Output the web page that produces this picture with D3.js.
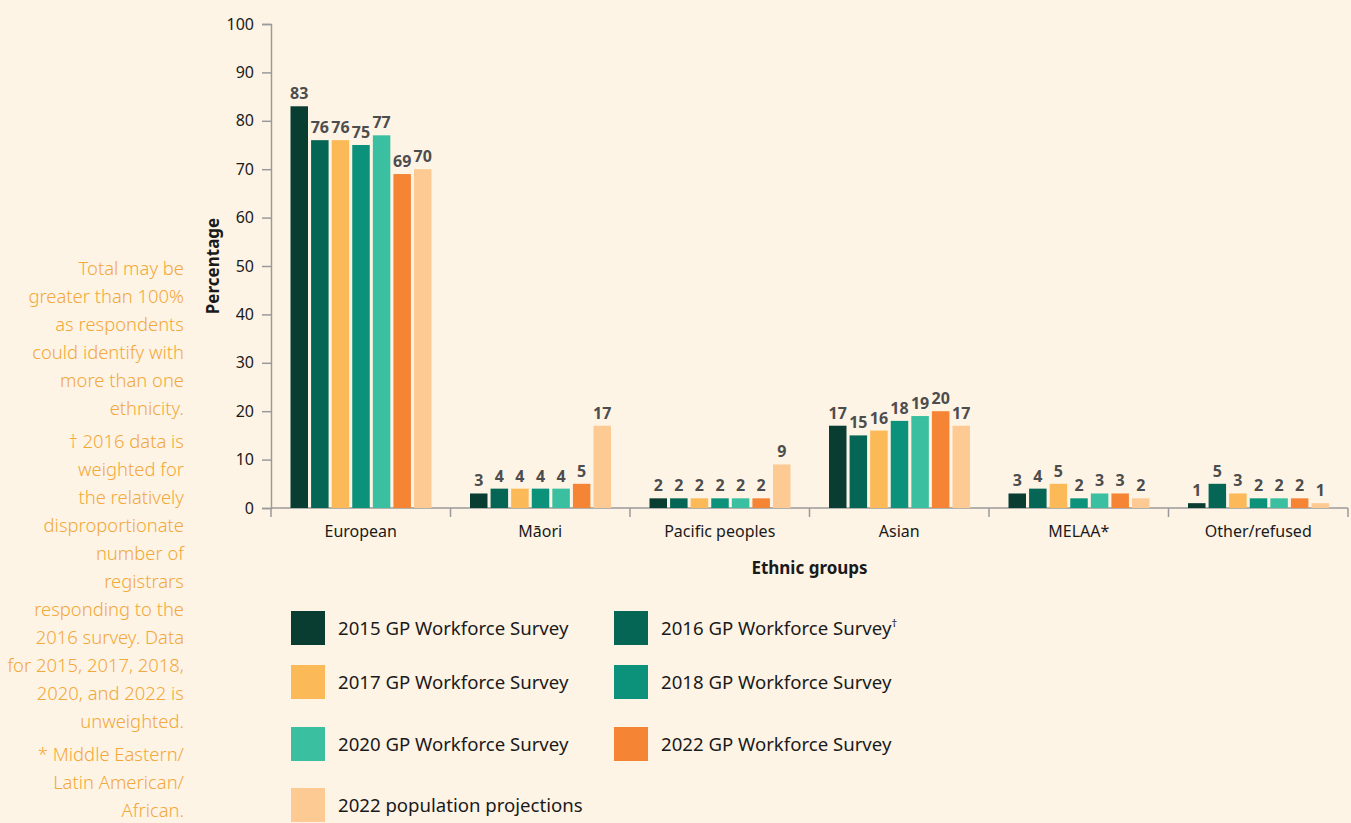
<!DOCTYPE html>
<html>
<head>
<meta charset="utf-8">
<script src="https://cdn.jsdelivr.net/npm/d3@7"></script>
<style>
  body { margin: 0; background: #fef4e6; }
  svg { display: block; font-family: "Noto Sans", sans-serif; }
</style>
</head>
<body>
<svg id="chart" width="1351" height="823"></svg>
<script>
// data
let categories = ['European', 'Māori', 'Pacific peoples', 'Asian', 'MELAA*', 'Other/refused']
let seriesNames = [
  '2015 GP Workforce Survey', '2016 GP Workforce Survey', '2017 GP Workforce Survey',
  '2018 GP Workforce Survey', '2020 GP Workforce Survey', '2022 GP Workforce Survey',
  '2022 population projections'
]
let s2015 = [83, 3, 2, 17, 3, 1]
let s2016 = [76, 4, 2, 15, 4, 5]
let s2017 = [76, 4, 2, 16, 5, 3]
let s2018 = [75, 4, 2, 18, 2, 2]
let s2020 = [77, 4, 2, 19, 3, 2]
let s2022 = [69, 5, 2, 20, 3, 2]
let pop2022 = [70, 17, 9, 17, 2, 1]
let yTicks = [0, 10, 20, 30, 40, 50, 60, 70, 80, 90, 100]
let noteLines = [
  ['Total may be', 'greater than 100%', 'as respondents', 'could identify with', 'more than one', 'ethnicity.'],
  ['† 2016 data is', 'weighted for', 'the relatively', 'disproportionate', 'number of', 'registrars', 'responding to the', '2016 survey. Data', 'for 2015, 2017, 2018,', '2020, and 2022 is', 'unweighted.'],
  ['* Middle Eastern/', 'Latin American/', 'African.']
]

let allSeries = [s2015, s2016, s2017, s2018, s2020, s2022, pop2022]
let colors = ['#0a3d32', '#066656', '#fbb957', '#0c917a', '#3abfa0', '#f58535', '#fdca93']

let svg = d3.select('#chart')
let pLeft = 271, pRight = 1348, pTop = 24, pBottom = 508

let x0 = d3.scaleBand().domain(categories).range([pLeft, pRight])
let x1 = d3.scaleBand().domain(d3.range(7)).range([19.5, 160.5]).paddingInner(0.15)
let y = d3.scaleLinear().domain([0, 100]).range([pBottom, pTop])
let color = d3.scaleOrdinal().domain(d3.range(7)).range(colors)

// y axis
let yAxis = svg.append('g')
  .attr('transform', `translate(${pLeft},0)`)
  .call(d3.axisLeft(y).tickValues(yTicks).tickSize(9).tickPadding(8))
yAxis.select('.domain').attr('stroke', '#9a9a9a').attr('stroke-width', 1.5)
yAxis.selectAll('.tick line').attr('stroke', '#9a9a9a').attr('stroke-width', 1.5)
yAxis.selectAll('.tick text').attr('font-size', 16).attr('fill', '#1a1a1a')
  .attr('font-family', '"Noto Sans", sans-serif')

// x axis
let xAxisG = svg.append('g').attr('transform', `translate(0,${pBottom})`)
xAxisG.append('line').attr('x1', pLeft).attr('x2', pRight).attr('stroke', '#9a9a9a').attr('stroke-width', 1.5)
let boundaries = categories.map(c => x0(c)).concat([pRight])
xAxisG.selectAll('line.tk').data(boundaries).join('line')
  .attr('class', 'tk')
  .attr('x1', d => d).attr('x2', d => d)
  .attr('y1', 0).attr('y2', 9)
  .attr('stroke', '#9a9a9a').attr('stroke-width', 1.5)
xAxisG.selectAll('text').data(categories).join('text')
  .attr('x', d => x0(d) + x0.bandwidth() / 2)
  .attr('y', 29)
  .attr('text-anchor', 'middle')
  .attr('font-size', 16)
  .attr('fill', '#1a1a1a')
  .text(d => d)

// bars
let groups = svg.append('g').selectAll('g')
  .data(categories)
  .join('g')
  .attr('transform', d => `translate(${x0(d)},0)`)

let cells = groups.selectAll('g')
  .data((c, ci) => allSeries.map((s, si) => ({ si, v: s[ci] })))
  .join('g')

cells.append('rect')
  .attr('x', d => x1(d.si))
  .attr('width', x1.bandwidth())
  .attr('y', d => y(d.v))
  .attr('height', d => y(0) - y(d.v))
  .attr('fill', d => color(d.si))

cells.append('text')
  .attr('x', d => x1(d.si) + x1.bandwidth() / 2)
  .attr('y', d => y(d.v) - 7)
  .attr('text-anchor', 'middle')
  .attr('font-size', 16)
  .attr('font-weight', 'bold')
  .attr('fill', '#4d4d4d')
  .text(d => d.v)

// axis titles
svg.append('text')
  .attr('transform', `translate(219,${(pTop + pBottom) / 2}) rotate(-90)`)
  .attr('text-anchor', 'middle')
  .attr('font-size', 17)
  .attr('font-weight', 'bold')
  .attr('fill', '#1a1a1a')
  .text('Percentage')

svg.append('text')
  .attr('x', (pLeft + pRight) / 2)
  .attr('y', 574)
  .attr('text-anchor', 'middle')
  .attr('font-size', 17)
  .attr('font-weight', 'bold')
  .attr('fill', '#1a1a1a')
  .text('Ethnic groups')

// legend
let legendPos = [[291, 628], [614, 628], [291, 682], [614, 682], [291, 744], [614, 744], [291, 805]]
let legend = svg.append('g').selectAll('g')
  .data(seriesNames)
  .join('g')
  .attr('transform', (d, i) => `translate(${legendPos[i][0]},${legendPos[i][1]})`)
legend.append('rect')
  .attr('x', 0).attr('y', -17)
  .attr('width', 34).attr('height', 34)
  .attr('fill', (d, i) => color(i))
let lt = legend.append('text')
  .attr('x', 47).attr('y', 6.5)
  .attr('font-size', 18.6)
  .attr('fill', '#1a1a1a')
  .text(d => d)
lt.filter((d, i) => i === 1).append('tspan')
  .attr('font-size', 11).attr('dy', -8).text('†')

// side note
let note = svg.append('g')
  .attr('font-size', 18.4)
  .attr('font-weight', 300)
  .attr('fill', '#f2a83a')
  .attr('text-anchor', 'end')
let ly = 275
noteLines.forEach(par => {
  par.forEach(line => {
    note.append('text').attr('x', 184).attr('y', ly).text(line)
    ly += 28
  })
  ly += 5
})
</script>
</body>
</html>
